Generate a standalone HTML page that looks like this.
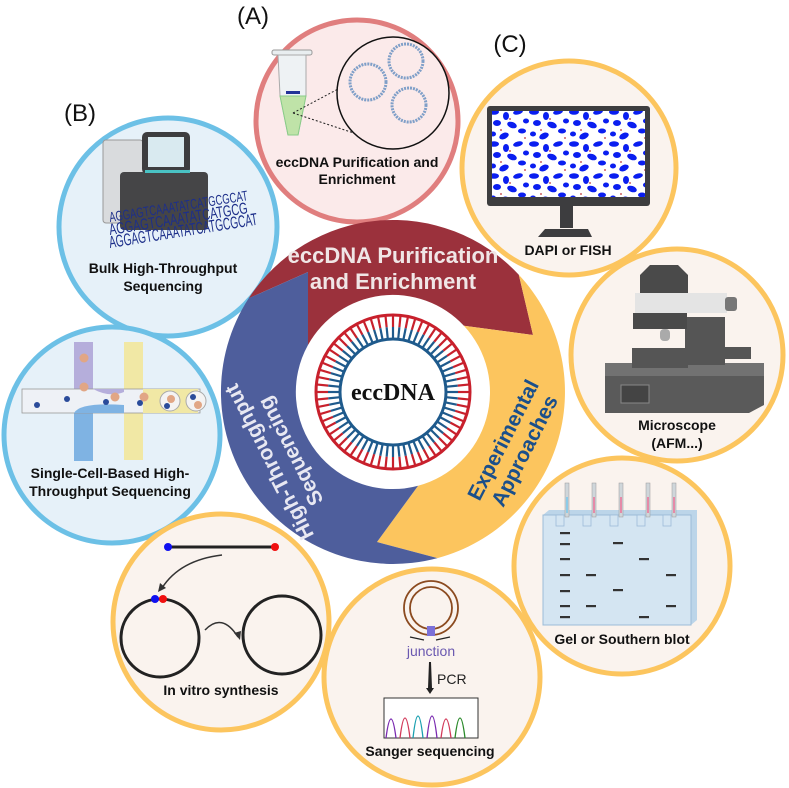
<!DOCTYPE html>
<html><head><meta charset="utf-8"><style>
html,body{margin:0;padding:0;background:#fff;}
svg{display:block;}
text{font-family:"Liberation Sans",sans-serif;}
.lb{font-weight:bold;font-size:14px;fill:#111;text-anchor:middle;}
.serif{font-family:"Liberation Serif",serif;}
</style></head><body>
<svg width="789" height="788" viewBox="0 0 789 788" xmlns="http://www.w3.org/2000/svg">
<defs>
<pattern id="cells" x="489" y="108" width="40" height="32" patternUnits="userSpaceOnUse">
<ellipse cx="5" cy="4" rx="5" ry="2.8" fill="#0a1ef0"/>
<ellipse cx="17" cy="8" rx="3" ry="4" fill="#0a1ef0"/>
<ellipse cx="29" cy="4" rx="5" ry="2.5" fill="#0a1ef0" transform="rotate(-15 29 4)"/>
<ellipse cx="37" cy="13" rx="3" ry="2.5" fill="#0a1ef0"/>
<ellipse cx="8" cy="15" rx="4" ry="3" fill="#0a1ef0"/>
<ellipse cx="23" cy="17" rx="5" ry="3" fill="#0a1ef0" transform="rotate(20 23 17)"/>
<ellipse cx="33" cy="23" rx="4" ry="2.5" fill="#0a1ef0"/>
<ellipse cx="4" cy="26" rx="3" ry="2.5" fill="#0a1ef0"/>
<ellipse cx="15" cy="28" rx="5" ry="3" fill="#0a1ef0" transform="rotate(-25 15 28)"/>
<circle cx="12" cy="22" r="0.9" fill="#b33"/><circle cx="36" cy="30" r="0.9" fill="#b33"/><circle cx="21" cy="11" r="0.9" fill="#b33"/>
</pattern>
</defs>

<text x="253" y="24" font-size="24" text-anchor="middle" fill="#111">(A)</text>
<text x="80" y="121" font-size="24" text-anchor="middle" fill="#111">(B)</text>
<text x="510" y="52" font-size="24" text-anchor="middle" fill="#111">(C)</text>

<!-- A circle -->
<circle cx="357" cy="121" r="101" fill="#fbeaea" stroke="#e07e7e" stroke-width="5"/>
<g>
<rect x="272" y="50" width="40" height="5" rx="2" fill="#e9eef0" stroke="#999" stroke-width="1"/>
<path d="M278 55 L306 55 L306 95 L298 135 L288 135 L280 95 Z" fill="#eef2f4" stroke="#aaa" stroke-width="1"/>
<path d="M280 96 L306 96 L298 135 L288 135 Z" fill="#bfe3a8" stroke="#8c8" stroke-width="1"/>
<rect x="286" y="91" width="14" height="3" fill="#223399"/>
<line x1="293" y1="113" x2="370" y2="72" stroke="#222" stroke-dasharray="2,2"/>
<line x1="293" y1="113" x2="372" y2="139" stroke="#222" stroke-dasharray="2,2"/>
<circle cx="393" cy="93" r="56" fill="#fbeaea" stroke="#111" stroke-width="1.5"/>
<circle cx="368" cy="82" r="18" fill="none" stroke="#7f9fc8" stroke-width="3" stroke-dasharray="2,1"/>
<circle cx="406" cy="61" r="17" fill="none" stroke="#7f9fc8" stroke-width="3" stroke-dasharray="2,1"/>
<circle cx="409" cy="105" r="17" fill="none" stroke="#7f9fc8" stroke-width="3" stroke-dasharray="2,1"/>
</g>
<text class="lb" x="357" y="167">eccDNA Purification and</text>
<text class="lb" x="357" y="184">Enrichment</text>

<!-- Bulk circle -->
<circle cx="168" cy="227" r="109" fill="#e6f1f9" stroke="#6cc0e6" stroke-width="5"/>
<rect x="103" y="140" width="40" height="83" rx="3" fill="#d9dbdd" stroke="#999"/>
<rect x="142" y="132" width="48" height="42" rx="5" fill="#3d3d3f"/>
<rect x="148" y="137" width="36" height="30" fill="#d9eaf0"/>
<rect x="120" y="172" width="88" height="58" rx="4" fill="#454547"/>
<rect x="145" y="170" width="45" height="3" fill="#49c2c4"/>
<g fill="#1d2f8a">
<text x="110" y="222" font-size="14" transform="rotate(-9 110 222)" textLength="140" lengthAdjust="spacingAndGlyphs">AGGAGTCAAATATCATGCGCAT</text>
<text x="110" y="235" font-size="16" transform="rotate(-9 110 235)" textLength="140" lengthAdjust="spacingAndGlyphs">AGGAGTCAAATATCATGCG</text>
<text x="110" y="248" font-size="17" transform="rotate(-9 110 248)" textLength="150" lengthAdjust="spacingAndGlyphs">AGGAGTCAAATATCATGCGCAT</text>
</g>
<text class="lb" x="163" y="273">Bulk High-Throughput</text>
<text class="lb" x="163" y="291">Sequencing</text>

<!-- Single-cell circle -->
<circle cx="112" cy="435" r="108" fill="#e6f1f9" stroke="#6cc0e6" stroke-width="5"/>
<rect x="74" y="342" width="19" height="50" fill="#b5aedb"/>
<rect x="74" y="411" width="19" height="50" fill="#7fb3e3"/>
<rect x="124" y="342" width="19" height="118" fill="#f1e8a5"/>
<rect x="22" y="389" width="178" height="24" fill="#eef1f6" stroke="#999" stroke-width="0.8"/>
<rect x="143" y="389" width="55" height="24" fill="#f1e8a5"/>
<path d="M74 389 L93 389 Q110 398 124 392 L124 389 L74 389 Z" fill="#b5aedb"/>
<path d="M74 413 Q80 402 124 405 L124 413 Z" fill="#7fb3e3"/>
<circle cx="170" cy="401" r="10" fill="#f4f3f3" stroke="#aaa"/>
<circle cx="196" cy="401" r="10" fill="#f4f3f3" stroke="#aaa"/>
<g fill="#e1a685"><circle cx="84" cy="358" r="4.5"/><circle cx="84" cy="387" r="4.5"/><circle cx="115" cy="397" r="4.5"/><circle cx="144" cy="397" r="4.5"/><circle cx="171" cy="399" r="4"/><circle cx="198" cy="405" r="4"/></g>
<g fill="#2a4b9a"><circle cx="37" cy="405" r="3"/><circle cx="67" cy="399" r="3"/><circle cx="106" cy="402" r="3"/><circle cx="140" cy="403" r="3"/><circle cx="167" cy="406" r="3"/><circle cx="193" cy="397" r="3"/></g>
<text class="lb" x="110" y="478">Single-Cell-Based High-</text>
<text class="lb" x="110" y="496">Throughput Sequencing</text>

<!-- DAPI circle -->
<circle cx="569" cy="168" r="107" fill="#faf3ee" stroke="#fcc55e" stroke-width="5"/>
<rect x="487" y="106" width="163" height="100" rx="3" fill="#3d3d3f"/>
<rect x="492" y="111" width="153" height="86" fill="#fff"/>
<rect x="492" y="111" width="153" height="86" fill="url(#cells)"/>
<rect x="560" y="206" width="13" height="22" fill="#3d3d3f"/>
<path d="M545 229 L588 229 L592 237 L538 237 Z" fill="#3d3d3f"/>
<text class="lb" x="568" y="255">DAPI or FISH</text>

<!-- Microscope circle -->
<circle cx="677" cy="355" r="106" fill="#faf3ee" stroke="#fcc55e" stroke-width="5"/>
<path d="M605 363 L764 363 L764 405 L749 413 L605 413 Z" fill="#5a5a5a"/>
<rect x="605" y="363" width="159" height="13" fill="#727272"/>
<rect x="621" y="385" width="28" height="18" fill="#444" stroke="#888"/>
<rect x="685" y="317" width="40" height="48" fill="#555"/>
<rect x="633" y="313" width="54" height="16" fill="#4a4a4a"/>
<rect x="635" y="293" width="92" height="20" fill="#e4e4e4"/>
<rect x="725" y="297" width="12" height="14" rx="3" fill="#777"/>
<path d="M640 275 L650 265 L678 265 L688 275 L688 293 L640 293 Z" fill="#4a4a4a"/>
<rect x="632" y="348" width="56" height="20" fill="#555"/>
<rect x="660" y="329" width="10" height="12" rx="4" fill="#aaa"/>
<rect x="723" y="347" width="28" height="12" fill="#555"/>
<text class="lb" x="677" y="430">Microscope</text>
<text class="lb" x="677" y="448">(AFM...)</text>

<!-- Gel circle -->
<circle cx="622" cy="566" r="108" fill="#faf3ee" stroke="#fcc55e" stroke-width="5"/>
<path d="M543 515 L549 510 L697 510 L697 620 L691 625 Z" fill="#bcd5e9"/>
<rect x="543" y="515" width="148" height="110" fill="#d4e5f2" stroke="#9cbcd8" stroke-width="1"/>
<g fill="#d4e5f2" stroke="#9cbcd8" stroke-width="0.8">
<rect x="556" y="515" width="8" height="11"/><rect x="583" y="515" width="8" height="11"/><rect x="610" y="515" width="8" height="11"/><rect x="637" y="515" width="8" height="11"/><rect x="663" y="515" width="8" height="11"/>
</g>
<g fill="#cfd6da" stroke="#999" stroke-width="0.5">
<rect x="565" y="483" width="4" height="34"/><rect x="592" y="483" width="4" height="34"/><rect x="619" y="483" width="4" height="34"/><rect x="646" y="483" width="4" height="34"/><rect x="672" y="483" width="4" height="34"/>
</g>
<g fill="#e58aa8"><rect x="593" y="497" width="2" height="16"/><rect x="620" y="497" width="2" height="16"/><rect x="647" y="497" width="2" height="16"/><rect x="673" y="497" width="2" height="16"/></g>
<rect x="566" y="497" width="2" height="16" fill="#8ccbe8"/>
<g fill="#333">
<rect x="560" y="532" width="10" height="2.2"/><rect x="560" y="543" width="10" height="2.2"/><rect x="560" y="558" width="10" height="2.2"/><rect x="560" y="574" width="10" height="2.2"/><rect x="560" y="590" width="10" height="2.2"/><rect x="560" y="605" width="10" height="2.2"/><rect x="560" y="616" width="10" height="2.2"/>
<rect x="586" y="574" width="10" height="2.2"/><rect x="586" y="605" width="10" height="2.2"/>
<rect x="613" y="542" width="10" height="2.2"/><rect x="613" y="589" width="10" height="2.2"/>
<rect x="639" y="558" width="10" height="2.2"/><rect x="639" y="616" width="10" height="2.2"/>
<rect x="666" y="574" width="10" height="2.2"/><rect x="666" y="605" width="10" height="2.2"/>
</g>
<text class="lb" x="622" y="644">Gel or Southern blot</text>

<!-- Sanger circle -->
<circle cx="432" cy="677" r="108" fill="#faf3ee" stroke="#fcc55e" stroke-width="5"/>
<circle cx="431" cy="608" r="27" fill="none" stroke="#8b4a1f" stroke-width="1.8"/>
<circle cx="431" cy="608" r="21" fill="none" stroke="#8b4a1f" stroke-width="1.8"/>
<rect x="427" y="626" width="8" height="10" fill="#7b70d8"/>
<path d="M410 637 L424 640 M436 640 L450 637" stroke="#222" stroke-width="1.2"/>
<text x="431" y="656" font-size="14" text-anchor="middle" fill="#6a58b0">junction</text>
<path d="M429 662 L431 662 L432 688 L434 688 L430 694 L426 688 L428 688 Z" fill="#222"/>
<text x="437" y="684" font-size="14" fill="#222">PCR</text>
<rect x="384" y="698" width="94" height="40" fill="#fff" stroke="#333" stroke-width="1"/>
<g fill="none" stroke-width="1.3">
<path d="M386 738 Q391 700 396 738" stroke="#7a2ab0"/>
<path d="M400 738 Q405 698 410 738" stroke="#d23a5a"/>
<path d="M413 738 Q418 694 423 738" stroke="#1aa0b0"/>
<path d="M427 738 Q432 694 437 738" stroke="#7a2ab0"/>
<path d="M441 738 Q446 700 451 738" stroke="#d23a5a"/>
<path d="M455 738 Q460 698 465 738" stroke="#2a8a2a"/>
</g>
<text class="lb" x="430" y="756">Sanger sequencing</text>

<!-- In vitro circle -->
<circle cx="221" cy="622" r="108" fill="#faf3ee" stroke="#fcc55e" stroke-width="5"/>
<line x1="168" y1="547" x2="275" y2="547" stroke="#222" stroke-width="3"/>
<circle cx="168" cy="547" r="4" fill="#1010f0"/><circle cx="275" cy="547" r="4" fill="#f01010"/>
<circle cx="160" cy="638" r="39" fill="none" stroke="#222" stroke-width="3"/>
<circle cx="282" cy="635" r="39" fill="none" stroke="#222" stroke-width="3"/>
<circle cx="155" cy="599" r="4" fill="#1010f0"/><circle cx="163" cy="599" r="4" fill="#f01010"/>
<path d="M222 555 Q180 560 162 588" fill="none" stroke="#333" stroke-width="1.5"/>
<path d="M158 592 L160 583 L166 588 Z" fill="#333"/>
<path d="M205 630 Q222 612 238 637" fill="none" stroke="#333" stroke-width="1.5"/>
<path d="M240 640 L234 633 L241 631 Z" fill="#333"/>
<text class="lb" x="221" y="695">In vitro synthesis</text>

<!-- central ring -->
<path d="M248.7 298.3 A172 172 0 0 1 518.8 274.7 L533 335 L463.9 325.8 A97 97 0 0 0 308 345 L308 272 Z" fill="#9b313c"/>
<path d="M518.8 274.7 A172 172 0 0 1 437.5 558.1 L377 542 L418.1 485.7 A97 97 0 0 0 463.9 325.8 L533 335 Z" fill="#fcc55e"/>
<path d="M437.5 558.1 A172 172 0 0 1 248.7 298.3 L308 272 L308 345 A97 97 0 0 0 418.1 485.7 L377 542 Z" fill="#4e5e9c"/>

<text x="393" y="263" font-size="22" font-weight="bold" fill="#f0e6e6" text-anchor="middle">eccDNA Purification</text>
<text x="393" y="289" font-size="22" font-weight="bold" fill="#f0e6e6" text-anchor="middle">and Enrichment</text>
<g transform="translate(513 445) rotate(-63)">
<text x="0" y="-4" font-size="21" font-weight="bold" fill="#1b4f8a" text-anchor="middle">Experimental</text>
<text x="0" y="20" font-size="21" font-weight="bold" fill="#1b4f8a" text-anchor="middle">Approaches</text>
</g>
<g transform="translate(279 457) rotate(-117)">
<text x="0" y="-4" font-size="21" font-weight="bold" fill="#e8e8f2" text-anchor="middle">High-Throughput</text>
<text x="0" y="20" font-size="21" font-weight="bold" fill="#e8e8f2" text-anchor="middle">Sequencing</text>
</g>

<!-- DNA ring -->
<g id="ticks" stroke-width="2.2"></g>
<circle cx="393" cy="392" r="77" fill="none" stroke="#c8202c" stroke-width="3"/>
<circle cx="393" cy="392" r="53" fill="none" stroke="#1e5a8c" stroke-width="3"/>
<text class="serif" x="393" y="400" font-size="24" font-weight="bold" text-anchor="middle" fill="#111">eccDNA</text>
</svg>
<script>
(function(){
var g=document.getElementById('ticks'),ns='http://www.w3.org/2000/svg',cx=393,cy=392,n=64;
for(var i=0;i<n;i++){var a=i*2*Math.PI/n;var c=Math.cos(a),s=Math.sin(a);
var l1=document.createElementNS(ns,'line');l1.setAttribute('x1',cx+c*77);l1.setAttribute('y1',cy+s*77);l1.setAttribute('x2',cx+c*65);l1.setAttribute('y2',cy+s*65);l1.setAttribute('stroke','#c8202c');g.appendChild(l1);
var l2=document.createElementNS(ns,'line');l2.setAttribute('x1',cx+c*65);l2.setAttribute('y1',cy+s*65);l2.setAttribute('x2',cx+c*53);l2.setAttribute('y2',cy+s*53);l2.setAttribute('stroke','#1e5a8c');g.appendChild(l2);}
})();
</script>
</body></html>
